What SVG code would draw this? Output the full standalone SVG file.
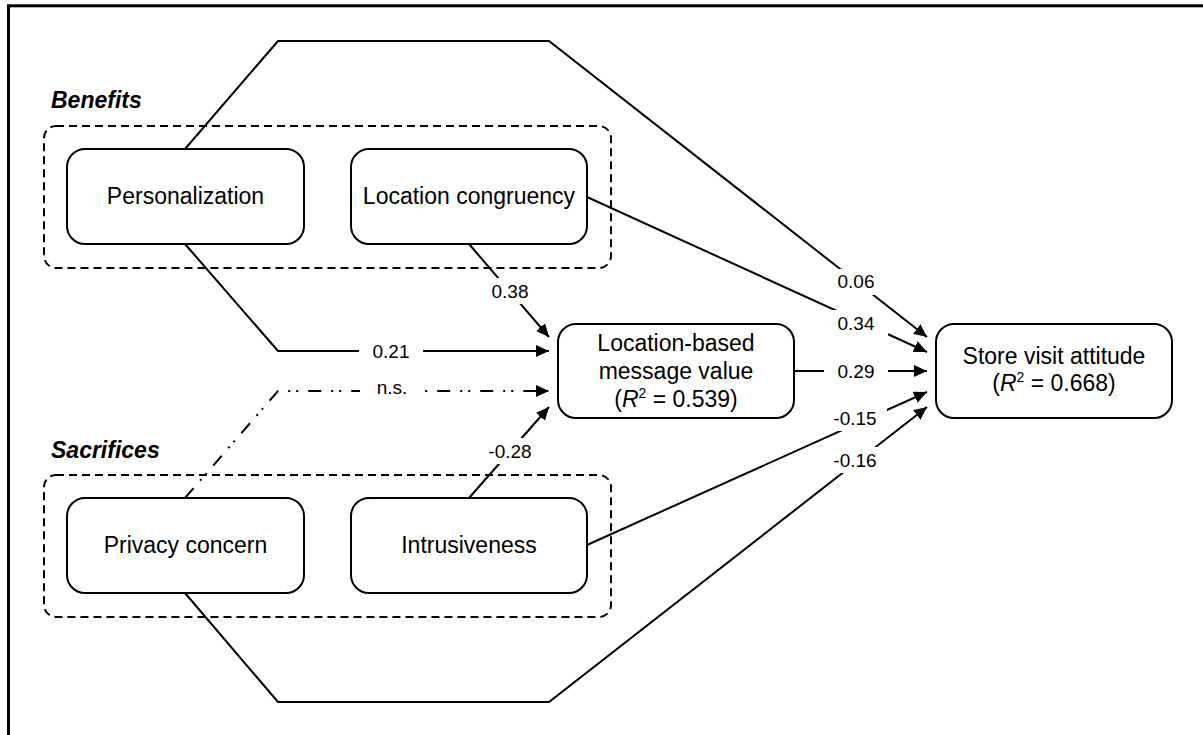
<svg xmlns="http://www.w3.org/2000/svg" width="1203" height="735" viewBox="0 0 1203 735">
  <style>
    .frame { fill: none; stroke: #000; stroke-width: 3; }
    .group { fill: none; stroke: #000; stroke-width: 2; stroke-dasharray: 8 5; }
    .node { fill: #fff; stroke: #000; stroke-width: 2; }
    .ntext { font-family: "Liberation Sans", Arial, sans-serif; font-size: 23px; fill: #000; text-anchor: middle; }
    .gtitle { font-family: "Liberation Sans", Arial, sans-serif; font-size: 23px; font-weight: bold; font-style: italic; fill: #000; }
    .conn { fill: none; stroke: #000; stroke-width: 2; marker-end: url(#arrow); }
    .ns { stroke-dasharray: 13 10 2 6 2 10; }
    .lbg { fill: #fff; stroke: none; }
    .ltext { font-family: "Liberation Sans", Arial, sans-serif; font-size: 19px; fill: #000; text-anchor: middle; }
  </style>
  <defs>
    <marker id="arrow" markerUnits="userSpaceOnUse" markerWidth="14" markerHeight="12" refX="13" refY="6" orient="auto">
      <path d="M0,0 L13,6 L0,12 z" fill="#000"/>
    </marker>
  </defs>
  <rect width="1203" height="735" fill="#fff"/>
  <rect class="frame" x="8.5" y="5.8" width="1300" height="800"/>

  <g id="benefits-group">
    <rect class="group" x="44" y="126" width="567" height="142" rx="12" ry="12"/>
    <text class="gtitle" x="51" y="108">Benefits</text>
  </g>
  <g id="sacrifices-group">
    <rect class="group" x="44" y="475" width="567" height="142" rx="12" ry="12"/>
    <text class="gtitle" x="51" y="458">Sacrifices</text>
  </g>

  <g id="connectors">
    <path class="conn" d="M185,149 L278,41 L549,41 L927,337"/>
    <path class="conn" d="M587,197 L927,352"/>
    <path class="conn" d="M794,371 L927,371"/>
    <path class="conn" d="M587,545 L927,392"/>
    <path class="conn" d="M185,593 L278,702 L549,702 L927,407"/>
    <path class="conn" d="M185,244 L278,351 L549,351"/>
    <path class="conn" d="M469,244 L549,337"/>
    <path class="conn ns" d="M185,498 L278,391 L549,391"/>
    <path class="conn" d="M469,498 L549,407"/>
  </g>

  <g id="labels">
    <rect class="lbg" x="478" y="278" width="64" height="26"/>
    <text class="ltext" x="510" y="298">0.38</text>
    <rect class="lbg" x="359" y="338" width="64" height="26"/>
    <text class="ltext" x="391" y="358">0.21</text>
    <rect class="lbg" x="360" y="378" width="64" height="26"/>
    <text class="ltext" x="392" y="394">n.s.</text>
    <rect class="lbg" x="478" y="438" width="64" height="26"/>
    <text class="ltext" x="510" y="458">-0.28</text>
    <rect class="lbg" x="824" y="269" width="64" height="26"/>
    <text class="ltext" x="856" y="288">0.06</text>
    <rect class="lbg" x="824" y="310" width="64" height="26"/>
    <text class="ltext" x="856" y="330">0.34</text>
    <rect class="lbg" x="824" y="358" width="64" height="26"/>
    <text class="ltext" x="856" y="378">0.29</text>
    <rect class="lbg" x="823" y="405" width="64" height="26"/>
    <text class="ltext" x="855" y="425">-0.15</text>
    <rect class="lbg" x="823" y="447" width="64" height="26"/>
    <text class="ltext" x="855" y="467">-0.16</text>
  </g>

  <g id="personalization">
    <rect class="node" x="67" y="149" width="237" height="95" rx="18" ry="18"/>
    <text class="ntext" x="185.5" y="204">Personalization</text>
  </g>
  <g id="location-congruency">
    <rect class="node" x="351" y="149" width="236" height="95" rx="18" ry="18"/>
    <text class="ntext" x="469" y="204">Location congruency</text>
  </g>
  <g id="privacy-concern">
    <rect class="node" x="67" y="498" width="237" height="95" rx="18" ry="18"/>
    <text class="ntext" x="185.5" y="553">Privacy concern</text>
  </g>
  <g id="intrusiveness">
    <rect class="node" x="351" y="498" width="236" height="95" rx="18" ry="18"/>
    <text class="ntext" x="469" y="553">Intrusiveness</text>
  </g>
  <g id="location-based-message-value">
    <rect class="node" x="558" y="324" width="236" height="94" rx="18" ry="18"/>
    <text class="ntext" x="676" y="351">Location-based</text>
    <text class="ntext" x="676" y="379">message value</text>
    <text class="ntext" x="676" y="407">(<tspan font-style="italic">R</tspan><tspan font-size="14" dy="-9">2</tspan><tspan dy="9"> = 0.539)</tspan></text>
  </g>
  <g id="store-visit-attitude">
    <rect class="node" x="936" y="324" width="236" height="94" rx="18" ry="18"/>
    <text class="ntext" x="1054" y="364">Store visit attitude</text>
    <text class="ntext" x="1054" y="391">(<tspan font-style="italic">R</tspan><tspan font-size="14" dy="-9">2</tspan><tspan dy="9"> = 0.668)</tspan></text>
  </g>
</svg>
